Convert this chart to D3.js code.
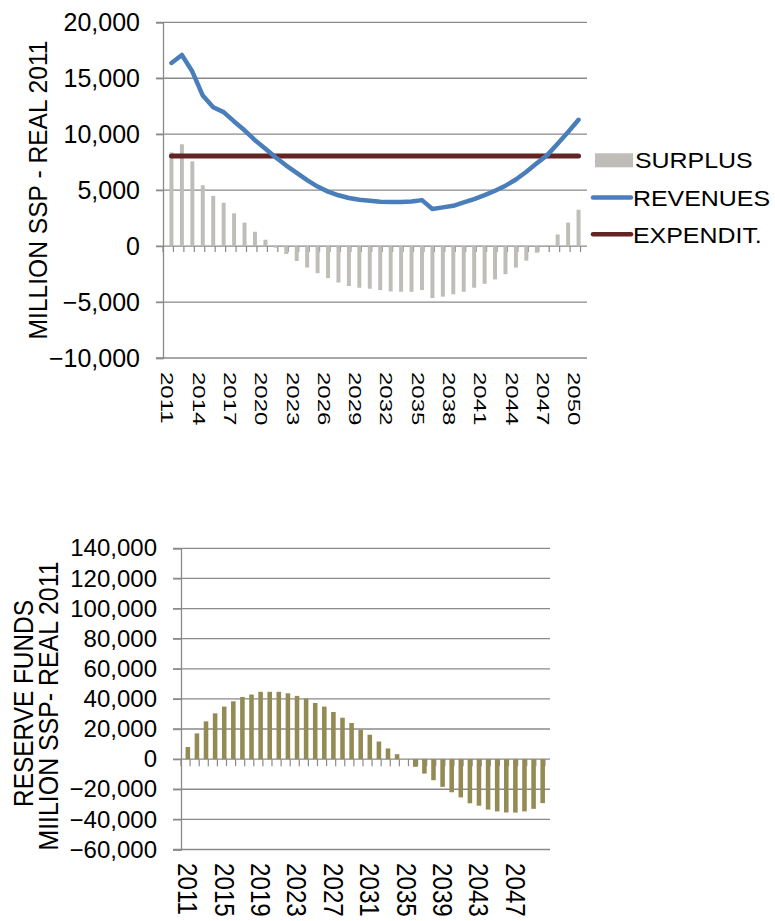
<!DOCTYPE html>
<html>
<head>
<meta charset="utf-8">
<script src="https://cdn.jsdelivr.net/npm/d3@7"></script>
<style>
  html, body { margin: 0; padding: 0; background: #ffffff; }
  svg { display: block; font-family: "Liberation Sans", Arial, sans-serif; }
</style>
</head>
<body>
<svg id="chart" width="775" height="921"></svg>
<script>
// Fiscal projection, 2011-2050 (million SSP, real 2011)
const years = ["2011","2012","2013","2014","2015","2016","2017","2018","2019","2020",
               "2021","2022","2023","2024","2025","2026","2027","2028","2029","2030",
               "2031","2032","2033","2034","2035","2036","2037","2038","2039","2040",
               "2041","2042","2043","2044","2045","2046","2047","2048","2049","2050"];

const surplus = [8370, 9100, 7570, 5440, 4490, 3870, 2930, 2100, 1280, 570,
                 -140, -710, -1330, -1920, -2420, -2860, -3250, -3570, -3720, -3810,
                 -3930, -4050, -4080, -4080, -3930, -4640, -4520, -4310, -4080, -3720,
                 -3370, -2980, -2510, -1920, -1300, -590, 100, 1040, 2100, 3250];

const revenues = [16370, 17080, 15600, 13450, 12410, 11970, 11140, 10350, 9460, 8690,
                  7920, 7200, 6550, 5900, 5320, 4870, 4540, 4300, 4140, 4050,
                  3960, 3936, 3936, 3990, 4110, 3316, 3460, 3600, 3900, 4200,
                  4550, 4950, 5400, 5950, 6650, 7400, 8130, 9150, 10200, 11290];

const expenditure = [8050, 8050, 8050, 8050, 8050, 8050, 8050, 8050, 8050, 8050,
                     8050, 8050, 8050, 8050, 8050, 8050, 8050, 8050, 8050, 8050,
                     8050, 8050, 8050, 8050, 8050, 8050, 8050, 8050, 8050, 8050,
                     8050, 8050, 8050, 8050, 8050, 8050, 8050, 8050, 8050, 8050];

const reserves = [8000, 17100, 25100, 30400, 34900, 38400, 41300, 42900, 44700, 44700,
                  44700, 43700, 42000, 40200, 37300, 34900, 31300, 27500, 24000, 19500,
                  16200, 11700, 7100, 3300, 0, -5100, -9600, -14000, -18400, -22000,
                  -25400, -29300, -30900, -33500, -34700, -35400, -35500, -34700, -33000, -29200];

const topTicks = [-10000, -5000, 0, 5000, 10000, 15000, 20000];
const topLabelYears = ["2011","2014","2017","2020","2023","2026","2029","2032","2035","2038","2041","2044","2047","2050"];
const bottomTicks = [-60000, -40000, -20000, 0, 20000, 40000, 60000, 80000, 100000, 120000, 140000];
const bottomLabelYears = ["2011","2015","2019","2023","2027","2031","2035","2039","2043","2047"];

const legendItems = [
  { name: "SURPLUS", kind: "bar" },
  { name: "REVENUES", kind: "line", color: "#4a7ebb" },
  { name: "EXPENDIT.", kind: "line", color: "#632523" }
];

const svg = d3.select("#chart");
const fmt = d3.format(",");
const gridColor = "#8a8a8a";

// ---------- Upper chart: surplus bars, revenue and expenditure lines ----------
const x1 = d3.scaleBand().domain(years).range([163, 587]).padding(0.62);
const y1 = d3.scaleLinear().domain([-10000, 20000]).range([358, 22.3]);
const upper = svg.append("g");

upper.append("g").selectAll("line").data(topTicks).join("line")
  .attr("x1", 156).attr("x2", 587)
  .attr("y1", d => y1(d)).attr("y2", d => y1(d))
  .attr("stroke", gridColor).attr("stroke-width", 1.3);

// category tick marks along the zero line
const step1 = x1.step();
upper.append("g").selectAll("line").data(d3.range(years.length + 1)).join("line")
  .attr("x1", k => x1.range()[0] + k * step1).attr("x2", k => x1.range()[0] + k * step1)
  .attr("y1", y1(0)).attr("y2", y1(0) + 6)
  .attr("stroke", gridColor).attr("stroke-width", 1.2);

const yAxis1 = upper.append("g").attr("transform", `translate(${x1.range()[0]},0)`)
  .call(d3.axisLeft(y1).tickValues(topTicks).tickFormat(fmt).tickSize(7).tickPadding(16));
yAxis1.select(".domain").attr("stroke", gridColor).attr("stroke-width", 1.3);
yAxis1.selectAll(".tick line").attr("stroke", gridColor).attr("stroke-width", 1.3);
yAxis1.selectAll(".tick text").attr("font-size", 25).attr("fill", "#000")
  .attr("font-family", "'Liberation Sans', Arial, sans-serif");

upper.append("g").selectAll("rect").data(years).join("rect")
  .attr("x", (d) => x1(d))
  .attr("width", x1.bandwidth())
  .attr("y", (d, i) => y1(Math.max(0, surplus[i])))
  .attr("height", (d, i) => Math.abs(y1(surplus[i]) - y1(0)))
  .attr("fill", "#bfbdb8");

const cx1 = d => x1(d) + x1.bandwidth() / 2;
const line1 = vals => d3.line().x((d) => cx1(d)).y((d, i) => y1(vals[i]))(years);

upper.append("path").attr("d", line1(expenditure))
  .attr("fill", "none").attr("stroke", "#632523").attr("stroke-width", 5)
  .attr("stroke-linecap", "round");
upper.append("path").attr("d", line1(revenues))
  .attr("fill", "none").attr("stroke", "#4a7ebb").attr("stroke-width", 4.5)
  .attr("stroke-linecap", "round").attr("stroke-linejoin", "round");

// year labels, every third year, reading downward (narrow glyphs)
upper.append("g").selectAll("text").data(topLabelYears).join("text")
  .attr("transform", d => `translate(${cx1(d) - 4},372) scale(0.72,1) rotate(90)`)
  .attr("dominant-baseline", "central")
  .attr("font-size", 24)
  .text(d => d);

upper.append("text")
  .attr("transform", "translate(38,190) scale(1.08,1) rotate(-90)")
  .attr("text-anchor", "middle").attr("dominant-baseline", "central")
  .attr("font-size", 24.6)
  .text("MILLION SSP - REAL 2011");

// legend
const legendRows = [168.3, 206, 242.7];
const lg = upper.append("g");
legendItems.forEach((item, i) => {
  const base = legendRows[i];
  if (item.kind === "bar") {
    lg.append("rect").attr("x", 595).attr("y", base - 15).attr("width", 38).attr("height", 14)
      .attr("fill", "#bfbdb8");
  } else {
    lg.append("line").attr("x1", 593).attr("x2", 631)
      .attr("y1", base - 8.5).attr("y2", base - 8.5)
      .attr("stroke", item.color).attr("stroke-width", 4.5).attr("stroke-linecap", "round");
  }
  lg.append("text")
    .attr("transform", `translate(${item.kind === "bar" ? 635 : 633},${base}) scale(1.16,1)`)
    .attr("font-size", 21.5)
    .text(item.name);
});

// ---------- Lower chart: reserve funds ----------
const x2 = d3.scaleBand().domain(years).range([181, 549.5]).padding(0.5);
const y2 = d3.scaleLinear().domain([-60000, 140000]).range([849.5, 548.3]);
const lower = svg.append("g");

lower.append("g").selectAll("line").data(bottomTicks).join("line")
  .attr("x1", 173).attr("x2", 550)
  .attr("y1", d => y2(d)).attr("y2", d => y2(d))
  .attr("stroke", gridColor).attr("stroke-width", 1.3);

const step2 = x2.step();
lower.append("g").selectAll("line").data(d3.range(years.length + 1)).join("line")
  .attr("x1", k => x2.range()[0] + k * step2).attr("x2", k => x2.range()[0] + k * step2)
  .attr("y1", y2(0)).attr("y2", y2(0) + 7)
  .attr("stroke", gridColor).attr("stroke-width", 1.2);

const yAxis2 = lower.append("g").attr("transform", `translate(${x2.range()[0]},0)`)
  .call(d3.axisLeft(y2).tickValues(bottomTicks).tickFormat(fmt).tickSize(8).tickPadding(16));
yAxis2.select(".domain").attr("stroke", gridColor).attr("stroke-width", 1.3);
yAxis2.selectAll(".tick line").attr("stroke", gridColor).attr("stroke-width", 1.3);
yAxis2.selectAll(".tick text").attr("font-size", 24).attr("fill", "#000")
  .attr("font-family", "'Liberation Sans', Arial, sans-serif");

lower.append("g").selectAll("rect").data(years).join("rect")
  .attr("x", d => x2(d))
  .attr("width", x2.bandwidth())
  .attr("y", (d, i) => y2(Math.max(0, reserves[i])))
  .attr("height", (d, i) => Math.abs(y2(reserves[i]) - y2(0)))
  .attr("fill", "#948a54");

const cx2 = d => x2(d) + x2.bandwidth() / 2;
lower.append("g").selectAll("text").data(bottomLabelYears).join("text")
  .attr("transform", d => `translate(${cx2(d)},863) scale(1.16,1) rotate(90)`)
  .attr("dominant-baseline", "central")
  .attr("font-size", 24.2)
  .text(d => d);

lower.append("text")
  .attr("transform", "translate(23,703.5) scale(1.15,1) rotate(-90)")
  .attr("text-anchor", "middle").attr("dominant-baseline", "central")
  .attr("font-size", 24.4)
  .text("RESERVE FUNDS");
lower.append("text")
  .attr("transform", "translate(48.5,706) scale(1.12,1) rotate(-90)")
  .attr("text-anchor", "middle").attr("dominant-baseline", "central")
  .attr("font-size", 24.9)
  .text("MIILION SSP- REAL 2011");
</script>
</body>
</html>
